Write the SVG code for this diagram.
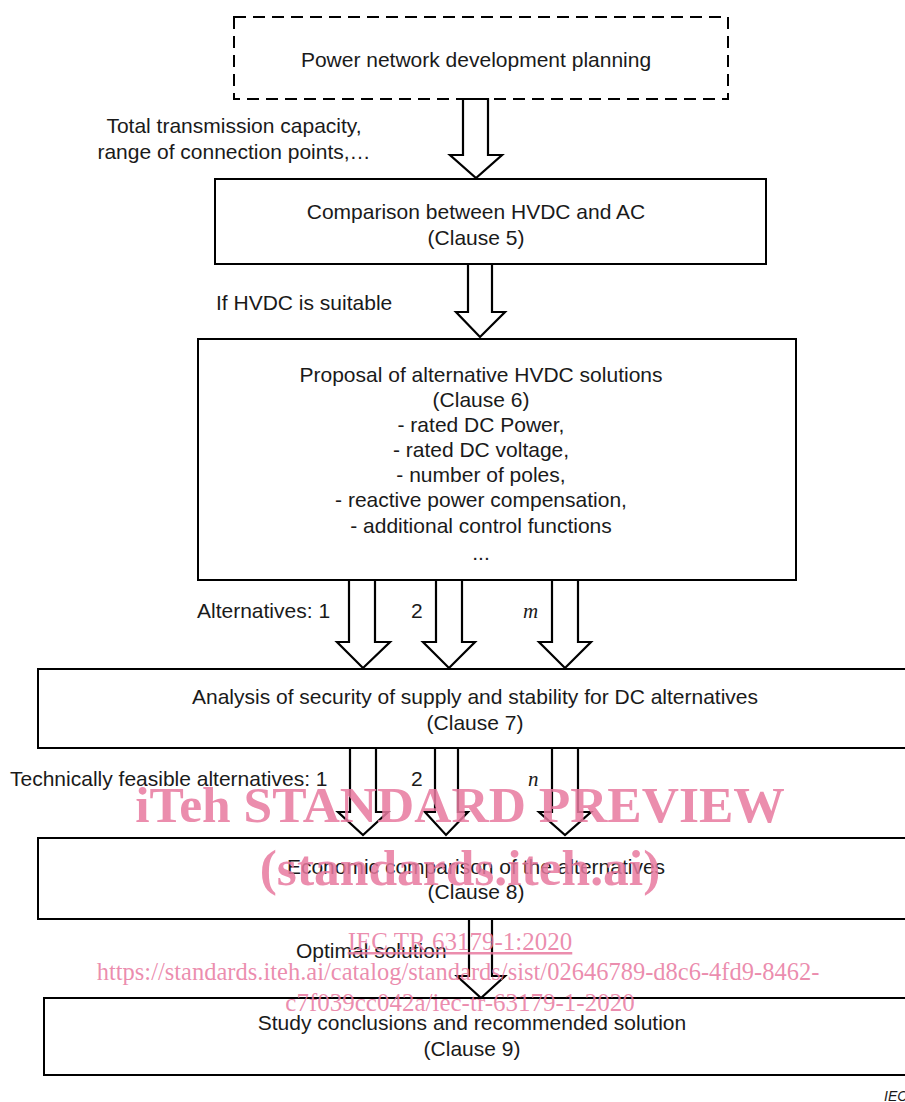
<svg xmlns="http://www.w3.org/2000/svg" width="905" height="1102" viewBox="0 0 905 1102">
<style>
.box{fill:#fff;stroke:#000;stroke-width:2}
.dash{fill:#fff;stroke:#000;stroke-width:2;stroke-dasharray:12 7}
.arr{fill:#fff;stroke:#000;stroke-width:2.2;stroke-linejoin:miter}
text{font-family:"Liberation Sans",Arial,sans-serif;font-size:21px;fill:#1a1a1a}
.c{text-anchor:middle}
.it{font-family:"Liberation Serif","Times New Roman",serif;font-style:italic}
.wm{font-family:"Liberation Serif","Times New Roman",serif;fill:#e8799f;fill-opacity:0.85;text-anchor:middle}
.wb{font-weight:bold;font-size:51.5px}
.ws{font-size:25px}
.wu{font-size:24.5px}
</style>
<rect width="905" height="1102" fill="#fff"/>
<g id="n1"><rect class="dash" x="234" y="17" width="494" height="82"/><text class="c" x="476" y="67">Power network development planning</text></g>
<g id="n2"><rect class="box" x="215" y="179" width="551" height="85"/><text class="c" x="476" y="219">Comparison between HVDC and AC</text><text class="c" x="476" y="245">(Clause 5)</text></g>
<g id="n3"><rect class="box" x="198" y="339" width="598" height="241"/>
<text class="c" x="481" y="382">Proposal of alternative HVDC solutions</text>
<text class="c" x="481" y="407">(Clause 6)</text>
<text class="c" x="481" y="432">- rated DC Power,</text>
<text class="c" x="481" y="457">- rated DC voltage,</text>
<text class="c" x="481" y="482">- number of poles,</text>
<text class="c" x="481" y="507">- reactive power compensation,</text>
<text class="c" x="481" y="533">- additional control functions</text>
<text class="c" x="481" y="560">...</text></g>
<g id="n4"><rect class="box" x="38" y="669" width="880" height="79"/><text class="c" x="475" y="704">Analysis of security of supply and stability for DC alternatives</text><text class="c" x="475" y="730">(Clause 7)</text></g>
<g id="n5"><rect class="box" x="38" y="838" width="880" height="81"/><text class="c" x="476" y="874">Economic comparison of the alternatives</text><text class="c" x="476" y="899">(Clause 8)</text></g>
<g id="n6"><rect class="box" x="44" y="998" width="874" height="77"/><text class="c" x="472" y="1030">Study conclusions and recommended solution</text><text class="c" x="472" y="1056">(Clause 9)</text></g>
<g id="connectors">
<polygon class="arr" points="463,99 488,99 488,155 502,155 476,178 450,155 463,155"/>
<polygon class="arr" points="468,264 492,264 492,312 505,312 480,337 456,312 468,312"/>
<polygon class="arr" points="349,580 375,580 375,642 390,642 363,668 337,642 349,642"/>
<polygon class="arr" points="436,580 462,580 462,642 475,642 449,668 423,642 436,642"/>
<polygon class="arr" points="552,580 578,580 578,642 591,642 565,668 539,642 552,642"/>
<polygon class="arr" points="350,748 376,748 376,812 388,812 363,835 338,812 350,812"/>
<polygon class="arr" points="435,748 458,748 458,812 468,812 446,835 425,812 435,812"/>
<polygon class="arr" points="552,748 578,748 578,812 591,812 565,835 539,812 552,812"/>
<polygon class="arr" points="469,919 492,919 492,976 505,976 481,998 457,976 469,976"/>
</g>
<g id="labels">
<text class="c" x="234" y="133">Total transmission capacity,</text>
<text class="c" x="234" y="159">range of connection points,…</text>
<text x="216" y="310">If HVDC is suitable</text>
<text x="197" y="618">Alternatives: 1</text>
<text x="411" y="618">2</text>
<text class="it" x="523" y="618">m</text>
<text x="10" y="786">Technically feasible alternatives: 1</text>
<text x="411" y="786">2</text>
<text class="it" x="528" y="786">n</text>
<text x="296" y="958">Optimal solution</text>
<text class="it" x="884" y="1101" style="font-size:14px;font-family:'Liberation Sans',Arial,sans-serif">IEC</text>
</g>
<g id="watermark">
<text class="wm wb" x="460" y="822">iTeh STANDARD PREVIEW</text>
<text class="wm wb" x="460" y="885">(standards.iteh.ai)</text>
<text class="wm ws" x="460" y="950" text-decoration="underline">IEC TR 63179-1:2020</text>
<text class="wm wu" x="458" y="980">https://standards.iteh.ai/catalog/standards/sist/02646789-d8c6-4fd9-8462-</text>
<text class="wm ws" x="460" y="1011">c7f039cc042a/iec-tr-63179-1-2020</text>
</g>
</svg>
